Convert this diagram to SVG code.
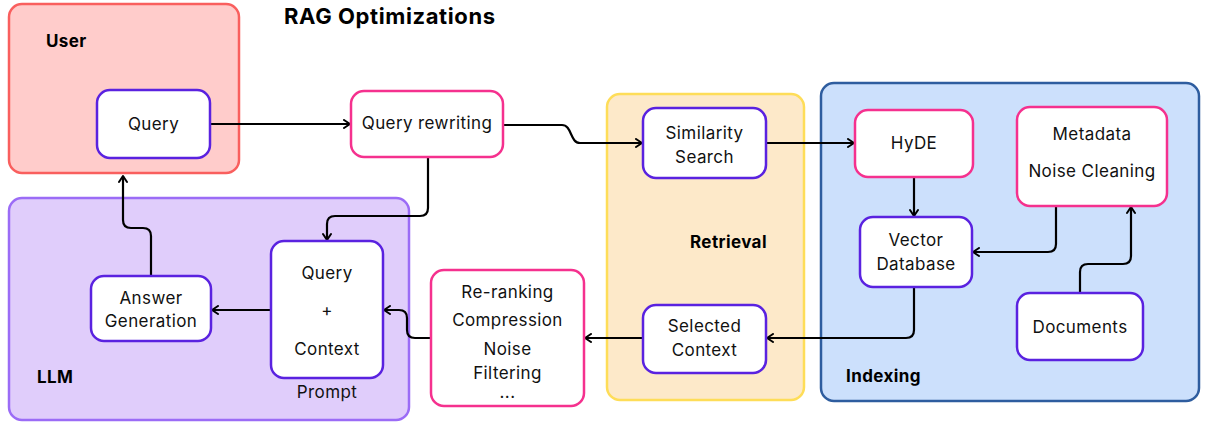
<svg xmlns="http://www.w3.org/2000/svg" width="1208" height="425" viewBox="0 0 1208 425">
  <style>
    .t { font-family: Inter, "Liberation Sans", sans-serif; font-size: 17px; letter-spacing: 0.4px; fill: #111; text-anchor: middle; }
    .h { font-family: Inter, "Liberation Sans", sans-serif; font-size: 17px; letter-spacing: 0.4px; font-weight: 700; fill: #000; }
    .node-p { fill: #fff; stroke: #5a22e0; stroke-width: 2.5; }
    .node-k { fill: #fff; stroke: #f5318e; stroke-width: 2.5; }
    .edge { fill: none; stroke: #000; stroke-width: 2.2; marker-end: url(#arr); }
  </style>
  <defs>
    <marker id="arr" viewBox="0 0 10 10" refX="9" refY="5" markerWidth="10" markerHeight="10" markerUnits="userSpaceOnUse" orient="auto">
      <path d="M3,1 L9,5 L3,9" fill="none" stroke="#000" stroke-width="2" stroke-linecap="round" stroke-linejoin="round"/>
    </marker>
  </defs>

  <rect width="1208" height="425" fill="#fff"/>

  <!-- groups / containers -->
  <g id="group-user">
    <rect x="9" y="4" width="230" height="169" rx="13" fill="#ffcccb" stroke="#f95f5e" stroke-width="2.5"/>
    <text class="h" x="46" y="47">User</text>
  </g>
  <g id="group-llm">
    <rect x="9" y="198" width="400" height="222" rx="13" fill="#e0cdfb" stroke="#9b6cf6" stroke-width="2.5"/>
    <text class="h" x="37" y="383">LLM</text>
  </g>
  <g id="group-retrieval">
    <rect x="607" y="94" width="197" height="306" rx="13" fill="#fde9c9" stroke="#fedd58" stroke-width="2.5"/>
    <text class="h" x="690" y="248">Retrieval</text>
  </g>
  <g id="group-indexing">
    <rect x="821" y="83" width="378" height="318" rx="13" fill="#cce0fc" stroke="#2e5d9f" stroke-width="2.5"/>
    <text class="h" x="846" y="382">Indexing</text>
  </g>

  <text x="284" y="24" font-family="Inter, 'Liberation Sans', sans-serif" font-size="22" letter-spacing="0.6" font-weight="700" fill="#000">RAG Optimizations</text>

  <!-- connectors -->
  <g id="connectors">
    <path class="edge" d="M210,124 H350"/>
    <path class="edge" d="M503,125 H562 C572,125 570,143 580,143 H642"/>
    <path class="edge" d="M428,157 V208 Q428,216 420,216 H335 Q327,216 327,224 V240"/>
    <path class="edge" d="M271,310 H212"/>
    <path class="edge" d="M151,276 V236 Q151,228 143,228 H131 Q123,228 123,220 V176"/>
    <path class="edge" d="M431,338 H415 Q407,338 407,330 V318 Q407,310 399,310 H384"/>
    <path class="edge" d="M643,338 H585"/>
    <path class="edge" d="M766,143 H854"/>
    <path class="edge" d="M914,177 V216"/>
    <path class="edge" d="M1056,206 V244 Q1056,252 1048,252 H973"/>
    <path class="edge" d="M1080,293 V272 Q1080,264 1088,264 H1123 Q1131,264 1131,256 V207"/>
    <path class="edge" d="M914,287 V330 Q914,338 906,338 H767"/>
  </g>

  <!-- nodes -->
  <g id="node-query">
    <rect class="node-p" x="97" y="90" width="113" height="68" rx="13"/>
    <text class="t" x="153.5" y="130">Query</text>
  </g>
  <g id="node-query-rewriting">
    <rect class="node-k" x="351" y="91" width="152" height="66" rx="13"/>
    <text class="t" x="427" y="129">Query rewriting</text>
  </g>
  <g id="node-answer-generation">
    <rect class="node-p" x="91" y="276" width="120" height="65" rx="13"/>
    <text class="t" x="151" y="304">Answer</text>
    <text class="t" x="151" y="327">Generation</text>
  </g>
  <g id="node-prompt">
    <rect class="node-p" x="271" y="241" width="112" height="137" rx="13"/>
    <text class="t" x="327" y="279">Query</text>
    <text class="t" x="327" y="316">+</text>
    <text class="t" x="327" y="355">Context</text>
    <text class="t" x="327" y="398">Prompt</text>
  </g>
  <g id="node-reranking">
    <rect class="node-k" x="431" y="270" width="153" height="136" rx="13"/>
    <text class="t" x="507.5" y="298">Re-ranking</text>
    <text class="t" x="507.5" y="326">Compression</text>
    <text class="t" x="507.5" y="355">Noise</text>
    <text class="t" x="507.5" y="379">Filtering</text>
    <text class="t" x="507.5" y="398">...</text>
  </g>
  <g id="node-similarity-search">
    <rect class="node-p" x="643" y="108" width="123" height="70" rx="13"/>
    <text class="t" x="704.5" y="139">Similarity</text>
    <text class="t" x="704.5" y="163">Search</text>
  </g>
  <g id="node-selected-context">
    <rect class="node-p" x="643" y="305" width="123" height="68" rx="13"/>
    <text class="t" x="704.5" y="332">Selected</text>
    <text class="t" x="704.5" y="356">Context</text>
  </g>
  <g id="node-hyde">
    <rect class="node-k" x="855" y="110" width="118" height="67" rx="13"/>
    <text class="t" x="914" y="149">HyDE</text>
  </g>
  <g id="node-metadata">
    <rect class="node-k" x="1017" y="107" width="150" height="99" rx="13"/>
    <text class="t" x="1092" y="140">Metadata</text>
    <text class="t" x="1092" y="177">Noise Cleaning</text>
  </g>
  <g id="node-vector-database">
    <rect class="node-p" x="860" y="217" width="112" height="70" rx="13"/>
    <text class="t" x="916" y="246">Vector</text>
    <text class="t" x="916" y="270">Database</text>
  </g>
  <g id="node-documents">
    <rect class="node-p" x="1017" y="293" width="126" height="67" rx="13"/>
    <text class="t" x="1080" y="333">Documents</text>
  </g>
</svg>
